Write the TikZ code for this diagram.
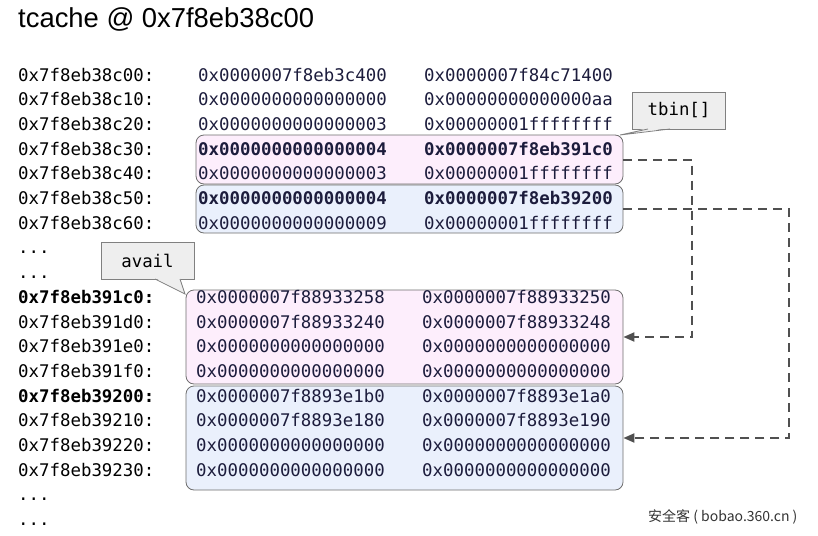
\documentclass[tikz,border=0pt]{standalone}
\usepackage{fontspec}
\setmainfont{Liberation Sans}
\setmonofont{DejaVu Sans Mono}
\newfontfamily\cjk{Noto Sans CJK SC}
\usetikzlibrary{arrows.meta}
\definecolor{pinkfill}{HTML}{FDEEFC}
\definecolor{bluefill}{HTML}{EAF0FC}
\definecolor{boxline}{HTML}{6E6E6E}
\definecolor{calloutfill}{HTML}{EEEEEE}
\definecolor{linkgray}{HTML}{505050}
\definecolor{cellink}{HTML}{1C1C3C}
\newcommand\skiprow{...}
\tikzset{
	mem/.style={anchor=base west,inner sep=0pt,font=\ttfamily\fontsize{17.4}{20}\selectfont},
	cell/.style={mem,text=cellink},
	chunk/.style={draw=boxline,line width=0.8pt,rounded corners=8pt,inner sep=0pt},
	callout/.style={draw=gray,fill=calloutfill,line width=0.8pt,inner sep=0pt,
		minimum width=93,minimum height=37,font=\ttfamily\fontsize{17.4}{20}\selectfont},
	link/.style={draw=linkgray,line width=2pt,dash pattern=on 9pt off 6pt,
		-{Triangle[length=11pt,width=9pt]}}
}
\begin{document}
\begin{tikzpicture}[x=1pt,y=-1pt]
	\useasboundingbox (0,0) rectangle (818,535);
	\node[anchor=base west,inner sep=0pt,font=\fontsize{27.4}{30}\selectfont] (title) at (18,28) {tcache @ 0x7f8eb38c00};
	% tcache entries and chunks
	\node[chunk,fill=pinkfill,minimum width=427,minimum height=49] (tbinA) at (409.5,159.5) {};
	\node[chunk,fill=bluefill,minimum width=427,minimum height=48] (tbinB) at (409.5,209) {};
	\node[chunk,fill=pinkfill,minimum width=437,minimum height=94] (chunkA) at (404.5,337) {};
	\node[chunk,fill=bluefill,minimum width=437,minimum height=104] (chunkB) at (404.5,438) {};
	% addresses
	\foreach \i/\a in {0/0x7f8eb38c00:,1/0x7f8eb38c10:,2/0x7f8eb38c20:,3/0x7f8eb38c30:,
		4/0x7f8eb38c40:,5/0x7f8eb38c50:,6/0x7f8eb38c60:,7/\skiprow,8/\skiprow,
		9/\textbf{0x7f8eb391c0:},10/0x7f8eb391d0:,11/0x7f8eb391e0:,12/0x7f8eb391f0:,
		13/\textbf{0x7f8eb39200:},14/0x7f8eb39210:,15/0x7f8eb39220:,16/0x7f8eb39230:,17/\skiprow,18/\skiprow}
		\node[mem] (addr\i) at (18,81+24.7*\i) {\a};
	% values
	\foreach \i/\b/\c in {0/0x0000007f8eb3c400/0x0000007f84c71400,
		1/0x0000000000000000/0x00000000000000aa,2/0x0000000000000003/0x00000001ffffffff,
		3/\textbf{0x0000000000000004}/\textbf{0x0000007f8eb391c0},
		4/0x0000000000000003/0x00000001ffffffff,
		5/\textbf{0x0000000000000004}/\textbf{0x0000007f8eb39200},
		6/0x0000000000000009/0x00000001ffffffff}
		{\node[cell] (lo\i) at (198,81+24.7*\i) {\b};
		\node[cell] (hi\i) at (424,81+24.7*\i) {\c};}
	\foreach \i/\b/\c in {9/0x0000007f88933258/0x0000007f88933250,
		10/0x0000007f88933240/0x0000007f88933248,
		11/0x0000000000000000/0x0000000000000000,12/0x0000000000000000/0x0000000000000000,
		13/0x0000007f8893e1b0/0x0000007f8893e1a0,14/0x0000007f8893e180/0x0000007f8893e190,
		15/0x0000000000000000/0x0000000000000000,16/0x0000000000000000/0x0000000000000000}
		{\node[cell] (lo\i) at (196,81+24.7*\i) {\b};
		\node[cell] (hi\i) at (422,81+24.7*\i) {\c};}
	% links
	\draw[link] (tbinA.east) -- ++(69,0) |- (chunkA.east);
	\draw[link] (tbinB.east) -- ++(166,0) |- (chunkB.east);
	% callouts
	\node[callout] (tbinlabel) at (679,110.5) {tbin[]};
	\coordinate (tbintip) at (620,135);
	\fill[calloutfill] (648,128) -- (tbintip) -- (670,128) -- cycle;
	\draw[gray,line width=0.8pt] (648,129) -- (tbintip) -- (670,129);
	\node[callout] (availlabel) at (147.5,260.5) {avail};
	\coordinate (availtip) at (185,294);
	\fill[calloutfill] (155,278) -- (availtip) -- (180,278) -- cycle;
	\draw[gray,line width=0.8pt] (155,279) -- (availtip) -- (180,279);
	\node[anchor=west,inner sep=0pt,text=black!80,font=\cjk\fontsize{14}{16}\selectfont] (mark) at (648,517) {安全客 ( bobao.360.cn )};
\end{tikzpicture}
\end{document}
